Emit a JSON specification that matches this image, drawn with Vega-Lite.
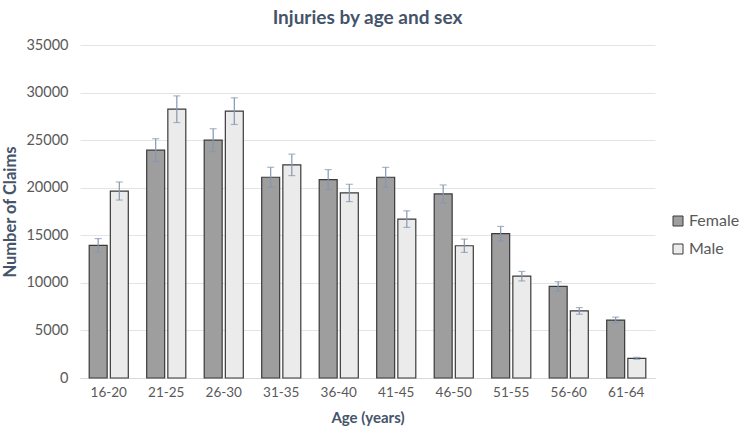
{
  "$schema": "https://vega.github.io/schema/vega-lite/v6.json",
  "autosize": {"type": "none"},
  "padding": {"left": 80, "top": 45, "right": 89, "bottom": 57},
  "width": 575,
  "height": 333,
  "background": "white",
  "title": {
    "text": "Injuries by age and sex",
    "font": "Lato",
    "fontSize": 19,
    "fontWeight": "bold",
    "color": "#44546A",
    "offset": 9
  },
  "config": {
    "view": {"stroke": null},
    "font": "Lato"
  },
  "data": {
    "values": [
      {"age": "16-20", "sex": "Female", "claims": 13950, "lo": 13250, "hi": 14650},
      {"age": "16-20", "sex": "Male", "claims": 19650, "lo": 18700, "hi": 20600},
      {"age": "21-25", "sex": "Female", "claims": 23950, "lo": 22750, "hi": 25150},
      {"age": "21-25", "sex": "Male", "claims": 28250, "lo": 26850, "hi": 29650},
      {"age": "26-30", "sex": "Female", "claims": 25000, "lo": 23800, "hi": 26200},
      {"age": "26-30", "sex": "Male", "claims": 28050, "lo": 26650, "hi": 29450},
      {"age": "31-35", "sex": "Female", "claims": 21100, "lo": 20050, "hi": 22150},
      {"age": "31-35", "sex": "Male", "claims": 22400, "lo": 21270, "hi": 23530},
      {"age": "36-40", "sex": "Female", "claims": 20850, "lo": 19800, "hi": 21900},
      {"age": "36-40", "sex": "Male", "claims": 19450, "lo": 18540, "hi": 20360},
      {"age": "41-45", "sex": "Female", "claims": 21100, "lo": 20060, "hi": 22140},
      {"age": "41-45", "sex": "Male", "claims": 16700, "lo": 15830, "hi": 17570},
      {"age": "46-50", "sex": "Female", "claims": 19350, "lo": 18410, "hi": 20290},
      {"age": "46-50", "sex": "Male", "claims": 13900, "lo": 13200, "hi": 14600},
      {"age": "51-55", "sex": "Female", "claims": 15170, "lo": 14410, "hi": 15930},
      {"age": "51-55", "sex": "Male", "claims": 10700, "lo": 10200, "hi": 11200},
      {"age": "56-60", "sex": "Female", "claims": 9630, "lo": 9140, "hi": 10120},
      {"age": "56-60", "sex": "Male", "claims": 7050, "lo": 6700, "hi": 7400},
      {"age": "61-64", "sex": "Female", "claims": 6090, "lo": 5780, "hi": 6400},
      {"age": "61-64", "sex": "Male", "claims": 2070, "lo": 1970, "hi": 2170}
    ]
  },
  "encoding": {
    "x": {
      "field": "age",
      "type": "nominal",
      "sort": null,
      "title": "Age (years)",
      "scale": {"paddingInner": 0.32, "paddingOuter": 0.16},
      "axis": {
        "labelAngle": 0,
        "labelFontSize": 13.5,
        "labelColor": "#595959",
        "labelPadding": 7,
        "ticks": false,
        "domainColor": "#D9D9D9",
        "titleFontSize": 15,
        "titleFontWeight": "bold",
        "titleColor": "#44546A",
        "titlePadding": 12
      }
    },
    "xOffset": {
      "field": "sex",
      "type": "nominal",
      "scale": {"paddingInner": 0.15}
    }
  },
  "layer": [
    {
      "mark": {"type": "bar", "stroke": "#3A3A3A", "strokeWidth": 1.2},
      "encoding": {
        "y": {
          "field": "claims",
          "type": "quantitative",
          "title": "Number of Claims",
          "scale": {"domain": [0, 35000]},
          "axis": {
            "values": [0, 5000, 10000, 15000, 20000, 25000, 30000, 35000],
            "format": "d",
            "labelFontSize": 14.5,
            "labelColor": "#595959",
            "labelPadding": 12,
            "ticks": false,
            "domain": false,
            "gridColor": "#E4E4E4",
            "titleFontSize": 16.5,
            "titleFontWeight": "bold",
            "titleColor": "#44546A",
            "titlePadding": 7
          }
        },
        "fill": {
          "field": "sex",
          "type": "nominal",
          "title": null,
          "scale": {"domain": ["Female", "Male"], "range": ["#9E9E9E", "#EBEBEB"]},
          "legend": {
            "orient": "none",
            "legendX": 590,
            "legendY": 168,
            "symbolType": "square",
            "symbolSize": 100,
            "symbolStrokeColor": "#3A3A3A",
            "symbolStrokeWidth": 1,
            "labelFontSize": 16,
            "labelColor": "#595959",
            "labelOffset": 3,
            "rowPadding": 12
          }
        }
      }
    },
    {
      "mark": {"type": "rule", "color": "#8497B0", "strokeWidth": 1.2},
      "encoding": {
        "y": {"field": "lo", "type": "quantitative"},
        "y2": {"field": "hi"}
      }
    },
    {
      "mark": {"type": "tick", "color": "#8497B0", "size": 7, "thickness": 1.2},
      "encoding": {
        "y": {"field": "hi", "type": "quantitative"}
      }
    },
    {
      "mark": {"type": "tick", "color": "#8497B0", "size": 7, "thickness": 1.2},
      "encoding": {
        "y": {"field": "lo", "type": "quantitative"}
      }
    }
  ]
}
